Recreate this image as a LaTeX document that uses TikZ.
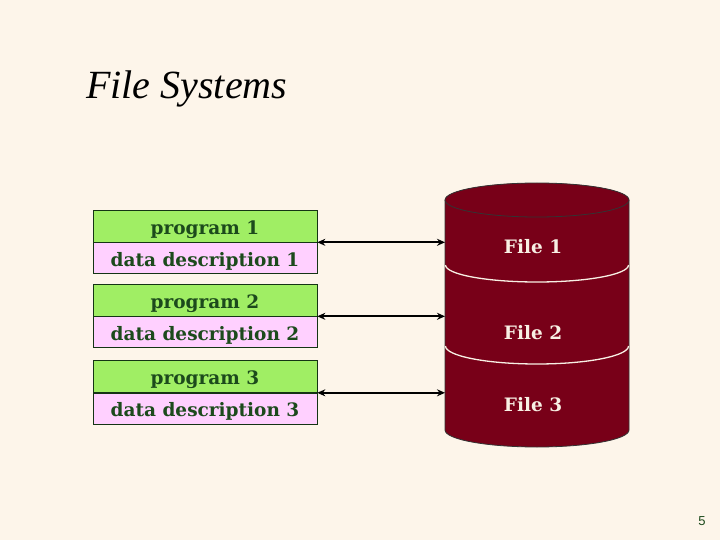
\documentclass[tikz,border=0pt]{standalone}
\usepackage{fontspec}
\setmainfont{DejaVu Serif}
\newfontfamily\titlefont{Liberation Serif}
\newfontfamily\numfont{Liberation Sans}
\usetikzlibrary{arrows.meta}
\definecolor{bgc}{HTML}{FDF5EA}
\definecolor{greenbox}{HTML}{A0EE64}
\definecolor{pinkbox}{HTML}{FFD0FF}
\definecolor{txtgreen}{HTML}{1C4A1C}
\definecolor{cylred}{HTML}{780018}
\definecolor{filetxt}{HTML}{F8F0E4}
\tikzset{
  progbox/.style={draw=txtgreen!70!black, line width=0.6pt, fill=greenbox, minimum width=224pt, minimum height=32pt, inner sep=0pt, text height=16pt, text depth=0pt, text=txtgreen, font=\bfseries\fontsize{18.5}{22}\selectfont},
  descbox/.style={progbox, fill=pinkbox, minimum height=31pt},
  filelabel/.style={text=filetxt, font=\bfseries\fontsize{18.5}{22}\selectfont},
  link/.style={{Stealth[length=8pt,width=7pt]}-{Stealth[length=8pt,width=7pt]}, line width=2pt, black}
}
\begin{document}
\begin{tikzpicture}[x=1pt,y=-1pt]
\fill[bgc] (0,0) rectangle (720,540);
\useasboundingbox (0,0) rectangle (720,540);
% title
\node[anchor=base west, inner sep=0pt, font=\titlefont\itshape\fontsize{40}{46}\selectfont] (title) at (86,99) {File Systems};
% boxes
\node[progbox] (p1) at (205,226) {program 1};
\node[descbox, anchor=north] (d1) at (p1.south) {data description 1};
\node[progbox] (p2) at (205,300) {program 2};
\node[descbox, anchor=north] (d2) at (p2.south) {data description 2};
\node[progbox] (p3) at (205,376.5) {program 3};
\node[descbox, anchor=north] (d3) at (p3.south) {data description 3};
% cylinder
\fill[cylred] (445,200) -- (445,430) arc[start angle=180,end angle=360,x radius=92pt,y radius=17pt] -- (629,200) arc[start angle=0,end angle=180,x radius=92pt,y radius=17pt] -- cycle;
\draw[black!80, line width=0.8pt] (445,200) -- (445,430) arc[start angle=180,end angle=360,x radius=92pt,y radius=17pt] -- (629,200);
\draw[black!80, line width=0.8pt, fill=cylred] (537,200) ellipse[x radius=92pt,y radius=17pt];
\draw[filetxt, line width=1.3pt] (445.5,265) arc[start angle=180,end angle=360,x radius=91.5pt,y radius=17pt];
\draw[filetxt, line width=1.3pt] (445.5,346) arc[start angle=180,end angle=360,x radius=91.5pt,y radius=18pt];
\coordinate (cylleft) at (445,300);
\node[filelabel] (f1) at (533,247) {File 1};
\node[filelabel] (f2) at (533,333) {File 2};
\node[filelabel] (f3) at (533,405) {File 3};
% links
\draw[link] (p1.south east) -- (p1.south east -| cylleft);
\draw[link] (p2.south east) -- (p2.south east -| cylleft);
\draw[link] (p3.south east) -- (p3.south east -| cylleft);
% page number
\node[text=txtgreen, font=\numfont\fontsize{13}{15}\selectfont] (pg) at (702,521) {5};
\end{tikzpicture}
\end{document}
